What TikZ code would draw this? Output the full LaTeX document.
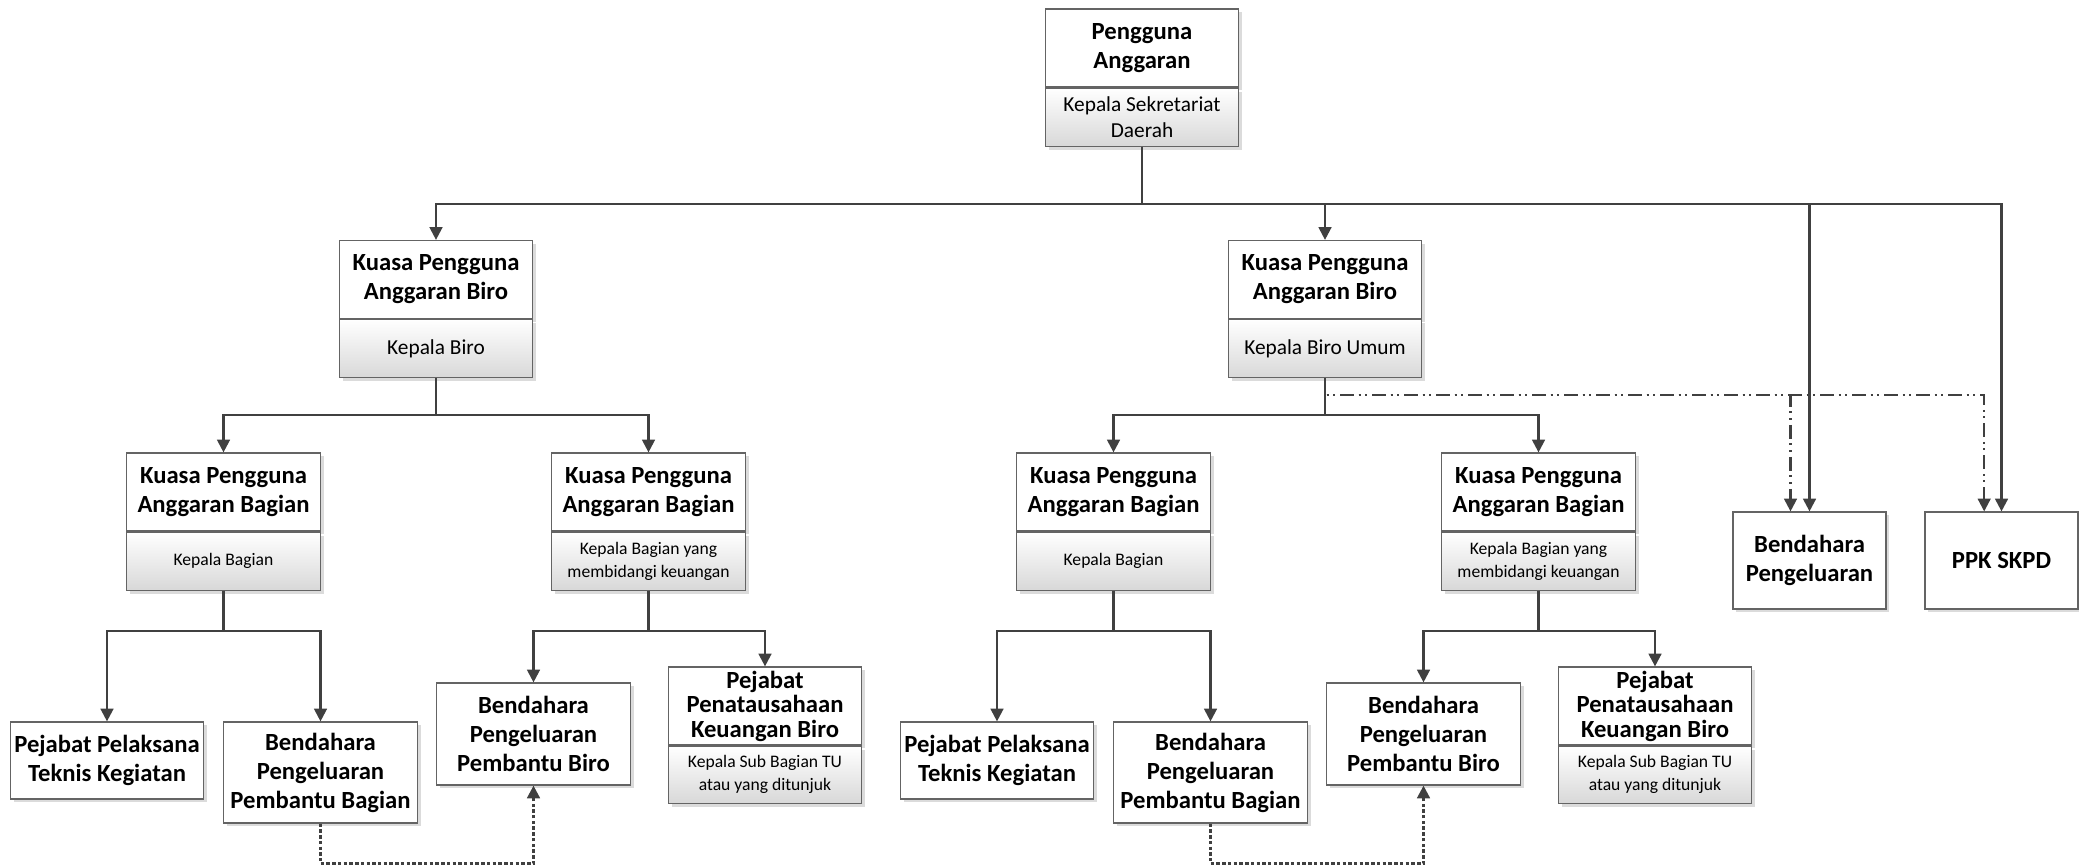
\documentclass[tikz,border=0pt]{standalone}
\usepackage{fontspec}
\setmainfont{Carlito}
\usetikzlibrary{arrows.meta,positioning,shadows}
\definecolor{LineGrey}{RGB}{64,64,64}
\definecolor{BoxGrey}{RGB}{100,100,100}
\definecolor{SubGrey}{RGB}{216,216,216}
\newcommand{\hdfont}{\bfseries\fontsize{18.5}{21.75}\selectfont}
\newcommand{\kpfont}{\fontsize{16}{19.5}\selectfont}
\newcommand{\smfont}{\fontsize{13.2}{17}\selectfont}
\tikzset{
	box/.style={draw=BoxGrey, line width=0.9pt, fill=white, align=center, inner sep=0pt, minimum width=145pt,
		drop shadow={shadow xshift=2.5pt, shadow yshift=-2.5pt, fill=black!14, opacity=1}},
	headbox/.style={box, font=\hdfont, minimum height=58.5pt},
	subbox/.style={box, top color=white, bottom color=SubGrey, minimum height=43.5pt, below=0pt of #1},
	conn/.style={draw=LineGrey, line width=1.7pt, -{Triangle[width=9.5pt, length=9.5pt]}},
	dashdot/.style={conn, line width=1.6pt, dash pattern=on 10.5pt off 3.5pt on 1.5pt off 3.5pt on 1.5pt off 3.5pt},
	dotline/.style={conn, line width=1.9pt, dash pattern=on 2.6pt off 1.7pt}
}

\begin{document}
\begin{tikzpicture}[x=0.75pt, y=-0.75pt]
	\useasboundingbox (0,0) rectangle (2079,866);
	\node[headbox] (pa) at (1142,48) {Pengguna\\Anggaran};
	\node[subbox=pa, font=\kpfont] (pa-sub) {Kepala Sekretariat\\Daerah};
	\node[headbox] (kpa1) at (436,279.5) {Kuasa Pengguna\\Anggaran Biro};
	\node[subbox=kpa1, font=\kpfont] (kpa1-sub) {Kepala Biro};
	\node[headbox] (kpa2) at (1325,279.5) {Kuasa Pengguna\\Anggaran Biro};
	\node[subbox=kpa2, font=\kpfont] (kpa2-sub) {Kepala Biro Umum};
	\node[box, font=\hdfont, minimum width=114.75pt, minimum height=72.75pt] (bp) at (1809.5,560.5) {Bendahara\\Pengeluaran};
	\node[box, font=\hdfont, minimum width=114.75pt, minimum height=72.75pt] (ppk) at (2001.5,560.5) {PPK SKPD};
	\foreach \t in {kpa1,kpa2,bp,ppk}
		\draw[conn] (pa-sub.south) -- ++(0,57) -| (\t.north);
	\draw[dashdot] (kpa2-sub.south) -- ++(0,17) -| ([xshift=-14.25pt]bp.north);
	\draw[dashdot] (kpa2-sub.south) -- ++(0,17) -| ([xshift=-13pt]ppk.north);
	\foreach \s/\k/\p in {0/1/kpa1, 890/2/kpa2} {
		\node[headbox] (bag\k) at (\s+223.5,492) {Kuasa Pengguna\\Anggaran Bagian};
		\node[subbox=bag\k, font=\smfont] (bag\k-sub) {Kepala Bagian};
		\node[headbox] (keu\k) at (\s+648.5,492) {Kuasa Pengguna\\Anggaran Bagian};
		\node[subbox=keu\k, font=\smfont] (keu\k-sub) {Kepala Bagian yang\\membidangi keuangan};
		\node[box, font=\hdfont, minimum height=57.75pt] (pptk\k) at (\s+107,760.5) {Pejabat Pelaksana\\Teknis Kegiatan};
		\node[box, font=\hdfont, minimum height=75.75pt] (bpp\k) at (\s+320.5,772.5) {Bendahara\\Pengeluaran\\Pembantu Bagian};
		\node[box, font=\hdfont, minimum height=76.5pt] (bppb\k) at (\s+533.5,734) {Bendahara\\Pengeluaran\\Pembantu Biro};
		\node[headbox, font=\bfseries\fontsize{18.5}{18.4}\selectfont] (ppkb\k) at (\s+765,706) {Pejabat\\Penatausahaan\\Keuangan Biro};
		\node[subbox=ppkb\k, font=\smfont, minimum height=42.75pt] (ppkb\k-sub) {Kepala Sub Bagian TU\\atau yang ditunjuk};
		\foreach \t in {bag\k,keu\k}
			\draw[conn] (\p-sub.south) -- ++(0,37) -| (\t.north);
		\draw[conn] (bag\k-sub.south) -- ++(0,40) -| (pptk\k.north);
		\draw[conn] (bag\k-sub.south) -- ++(0,40) -| (bpp\k.north);
		\draw[conn] (keu\k-sub.south) -- ++(0,40) -| (bppb\k.north);
		\draw[conn] (keu\k-sub.south) -- ++(0,40) -| (ppkb\k.north);
		\draw[dotline] (bpp\k.south) -- ++(0,40) -| (bppb\k.south);
	}
\end{tikzpicture}
\end{document}
